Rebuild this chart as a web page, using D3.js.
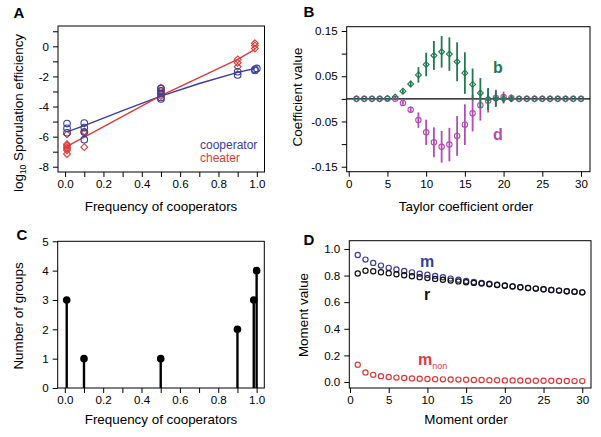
<!DOCTYPE html>
<html><head><meta charset="utf-8">
<script src="https://cdn.jsdelivr.net/npm/d3@7"></script>
<style>body{margin:0;background:#fff}svg{display:block}text{font-family:"Liberation Sans",Arial,sans-serif}</style>
</head><body><svg id="c" width="601" height="437"></svg>
<script>
// ---------- Panel A data ----------
const coopX = [0.01,0.01,0.01, 0.1,0.1,0.1,0.1, 0.5,0.5,0.5,0.5,0.5, 0.9,0.9, 0.99,0.99,1.0];
const coopY = [-5.13,-5.45,-5.75, -5.1,-5.4,-5.7,-6.2, -2.8,-2.96,-3.13,-3.4,-3.5, -1.69,-1.9, -1.53,-1.6,-1.47];
const cheatX = [0.01,0.01,0.01,0.01,0.01,0.01,0.01, 0.1,0.1,0.1, 0.5,0.5,0.5,0.5, 0.9,0.9,0.9, 0.99,0.99,0.99];
const cheatY = [-5.85,-6.5,-6.6,-6.7,-6.8,-6.9,-7.15, -5.65,-5.75,-6.7, -2.75,-2.95,-3.15,-3.3, -0.87,-1.09,-1.36, 0.2,0.05,-0.15];
const coopFitX = [0.01,0.1,0.3,0.5,0.7,0.9,0.99];
const coopFitY = [-5.69,-5.27,-4.27,-3.31,-2.47,-1.73,-1.47];
const cheatFitX = [0.01,0.1,0.5,0.9,0.99];
const cheatFitY = [-6.65,-6.04,-3.28,-0.87,-0.2];
const freqTicks = [0,0.1,0.2,0.3,0.4,0.5,0.6,0.7,0.8,0.9,1.0];
const aYTicks = [1,0,-1,-2,-3,-4,-5,-6,-7,-8];

// ---------- Panel B data ----------
const taylorOrder = d3.range(1,31);
const bVal = [0,0,0,0,0.001,0.004,0.017,0.033,0.053,0.076,0.096,0.104,0.099,0.082,0.057,0.032,0.013,0,0,0,0,0,0,0,0,0,0,0,0,0];
const bErr = [0,0,0,0,0,0.002,0.004,0.007,0.017,0.026,0.032,0.035,0.037,0.043,0.046,0.035,0.033,0.024,0.018,0.01,0.007,0,0,0,0,0,0,0,0,0];
const dVal = [0,0,0,0,0,0,-0.009,-0.024,-0.047,-0.074,-0.096,-0.106,-0.101,-0.082,-0.057,-0.032,-0.014,-0.004,0.002,0.004,0.002,0,0,0,0,0,0,0,0,0];
const dErr = [0,0,0,0,0,0.002,0.004,0.007,0.017,0.028,0.033,0.035,0.037,0.044,0.045,0.04,0.034,0.026,0.018,0.012,0.008,0,0,0,0,0,0,0,0,0];
const bYTicks = [0.15,0.1,0.05,0,-0.05,-0.1,-0.15];
const orderTicks = [0,5,10,15,20,25,30];

// ---------- Panel C data ----------
const groupFreq = [0.01,0.1,0.5,0.9,0.985,1.0];
const groupCount = [3,1,1,2,3,4];
const cYTicks = [0,1,2,3,4,5];

// ---------- Panel D data ----------
const momentOrder = d3.range(1,31);
const mVal = [0.955,0.92,0.895,0.875,0.858,0.845,0.834,0.824,0.814,0.806,0.797,0.787,0.777,0.768,0.760,0.752,0.745,0.738,0.731,0.725,0.719,0.713,0.707,0.702,0.697,0.692,0.687,0.682,0.678,0.674];
const rVal = [0.815,0.836,0.832,0.825,0.818,0.81,0.802,0.795,0.788,0.781,0.775,0.768,0.762,0.756,0.750,0.745,0.740,0.735,0.729,0.724,0.718,0.712,0.707,0.702,0.697,0.692,0.687,0.682,0.678,0.674];
const mnonVal = [0.13,0.072,0.054,0.044,0.038,0.033,0.03,0.027,0.025,0.023,0.021,0.02,0.019,0.018,0.017,0.016,0.015,0.014,0.013,0.012,0.012,0.011,0.01,0.01,0.009,0.009,0.008,0.008,0.007,0.007];
const dYTicks = [0,0.2,0.4,0.6,0.8,1.0];

const BLUE="#3a3d9c", RED="#dd3b3b", GREEN="#1f7a4e", PURPLE="#b44ab4";
const svg = d3.select("#c");
svg.append("rect").attr("width",601).attr("height",437).attr("fill","#fff");

function frame(x,y){
  svg.append("rect").attr("x",x.range()[0]).attr("y",y.range()[1])
    .attr("width",x.range()[1]-x.range()[0]).attr("height",y.range()[0]-y.range()[1])
    .attr("fill","none").attr("stroke","#000").attr("stroke-width",1);
}
function axes(x,y,xt,xf,yt,yf){
  const gx = svg.append("g").attr("transform",`translate(0,${y.range()[0]})`)
    .call(d3.axisBottom(x).tickValues(xt).tickFormat(xf).tickSize(5).tickPadding(3));
  const gy = svg.append("g").attr("transform",`translate(${x.range()[0]},0)`)
    .call(d3.axisLeft(y).tickValues(yt).tickFormat(yf).tickSize(5).tickPadding(4));
  [gx,gy].forEach(g=>{g.select(".domain").remove();
    g.selectAll("text").attr("font-size",11.6).attr("fill","#000").style("font-family",'"Liberation Sans",Arial,sans-serif');
    g.selectAll("line").attr("stroke","#000");});
}
function label(t,x,y,opt={}){
  const e=svg.append("text").attr("x",x).attr("y",y).text(t)
    .attr("font-size",opt.size||13.4).attr("fill",opt.color||"#000")
    .attr("text-anchor",opt.anchor||"middle").attr("font-weight",opt.bold?"bold":"normal");
  if(opt.rot) e.attr("transform",`rotate(-90,${x},${y})`);
  return e;
}
const diamond = d3.symbol().type(d3.symbolDiamond2);

// ===== Panel A =====
{
  const x=d3.scaleLinear().domain([-0.037,1.04]).range([58,264.5]);
  const y=d3.scaleLinear().domain([-8.35,1.35]).range([172,26]);
  axes(x,y,freqTicks,(d,i)=>i%2?"":d3.format(".1f")(d),aYTicks,d=>d%2?"":d3.format("d")(d).replace("−","-"));
  const ln=d3.line().x(d=>x(d[0])).y(d=>y(d[1]));
  svg.append("path").attr("d",ln(d3.zip(coopFitX,coopFitY))).attr("fill","none").attr("stroke",BLUE).attr("stroke-width",1.4);
  svg.append("path").attr("d",ln(d3.zip(cheatFitX,cheatFitY))).attr("fill","none").attr("stroke",RED).attr("stroke-width",1.4);
  svg.append("g").selectAll("path").data(d3.zip(cheatX,cheatY)).join("path")
    .attr("d",diamond.size(30)).attr("transform",d=>`translate(${x(d[0])},${y(d[1])})`)
    .attr("fill","none").attr("stroke",RED).attr("stroke-width",1.1);
  svg.append("g").selectAll("circle").data(d3.zip(coopX,coopY)).join("circle")
    .attr("cx",d=>x(d[0])).attr("cy",d=>y(d[1])).attr("r",3.3)
    .attr("fill","none").attr("stroke",BLUE).attr("stroke-width",1.1);
  frame(x,y);
  label("cooperator",200,149,{size:12,color:BLUE,anchor:"start"});
  label("cheater",200,162,{size:12,color:RED,anchor:"start"});
  label("Frequency of cooperators",161,211);
  const t=svg.append("text").attr("transform","translate(23,113) rotate(-90)").attr("text-anchor","middle").attr("font-size",13.4);
  t.append("tspan").text("log");
  t.append("tspan").text("10").attr("font-size",8.5).attr("dy",3);
  t.append("tspan").text(" Sporulation efficiency").attr("dy",-3);
  label("A",19,18,{size:15,bold:true});
}
// ===== Panel B =====
{
  const x=d3.scaleLinear().domain([-0.26,31.16]).range([346.7,590]);
  const y=d3.scaleLinear().domain([-0.161,0.1595]).range([171.7,26.7]);
  axes(x,y,orderTicks,d3.format("d"),bYTicks,d=>[0.15,0.05,-0.05,-0.15].includes(d)?d3.format(".2f")(d).replace("−","-"):"");
  svg.append("line").attr("x1",x.range()[0]).attr("x2",x.range()[1]).attr("y1",y(0)).attr("y2",y(0)).attr("stroke","#000").attr("stroke-width",1.2);
  const D=d3.zip(taylorOrder,dVal,dErr), B=d3.zip(taylorOrder,bVal,bErr);
  svg.append("g").selectAll("line").data(D.filter(d=>d[2]>0)).join("line")
    .attr("x1",d=>x(d[0])).attr("x2",d=>x(d[0])).attr("y1",d=>y(d[1]-d[2])).attr("y2",d=>y(d[1]+d[2]))
    .attr("stroke",PURPLE).attr("stroke-width",1.8);
  svg.append("g").selectAll("circle").data(D).join("circle")
    .attr("cx",d=>x(d[0])).attr("cy",d=>y(d[1])).attr("r",2.7)
    .attr("fill","none").attr("stroke",PURPLE).attr("stroke-width",1.1);
  svg.append("g").selectAll("line").data(B.filter(d=>d[2]>0)).join("line")
    .attr("x1",d=>x(d[0])).attr("x2",d=>x(d[0])).attr("y1",d=>y(d[1]-d[2])).attr("y2",d=>y(d[1]+d[2]))
    .attr("stroke",GREEN).attr("stroke-width",1.8);
  svg.append("g").selectAll("path").data(B).join("path")
    .attr("d",diamond.size(22)).attr("transform",d=>`translate(${x(d[0])},${y(d[1])})`)
    .attr("fill","none").attr("stroke",GREEN).attr("stroke-width",1.1);
  frame(x,y);
  label("b",498,73,{size:16,bold:true,color:GREEN});
  label("d",498,140,{size:16,bold:true,color:PURPLE});
  label("Taylor coefficient order",466,211);
  label("Coefficient value",302,97,{rot:true});
  label("B",309,17,{size:15,bold:true});
}
// ===== Panel C =====
{
  const x=d3.scaleLinear().domain([-0.037,1.04]).range([57.7,264.3]);
  const y=d3.scaleLinear().domain([0,5]).range([388,241.3]);
  axes(x,y,freqTicks,(d,i)=>i%2?"":d3.format(".1f")(d),cYTicks,d3.format("d"));
  const G=d3.zip(groupFreq,groupCount);
  svg.append("g").selectAll("line").data(G).join("line")
    .attr("x1",d=>x(d[0])).attr("x2",d=>x(d[0])).attr("y1",y(0)).attr("y2",d=>y(d[1]))
    .attr("stroke","#000").attr("stroke-width",2.4);
  svg.append("g").selectAll("circle").data(G).join("circle")
    .attr("cx",d=>x(d[0])).attr("cy",d=>y(d[1])).attr("r",3.8).attr("fill","#000");
  frame(x,y);
  label("Frequency of cooperators",161,424);
  label("Number of groups",23,316,{rot:true});
  label("C",22,240,{size:15,bold:true});
}
// ===== Panel D =====
{
  const x=d3.scaleLinear().domain([-0.09,31.13]).range([349.3,591]);
  const y=d3.scaleLinear().domain([-0.045,1.062]).range([388,240.7]);
  axes(x,y,orderTicks,d3.format("d"),dYTicks,d3.format(".1f"));
  const draw=(vals,col)=>svg.append("g").selectAll("circle").data(d3.zip(momentOrder,vals)).join("circle")
    .attr("cx",d=>x(d[0])).attr("cy",d=>y(d[1])).attr("r",2.6)
    .attr("fill","none").attr("stroke",col).attr("stroke-width",1.2);
  draw(mVal,BLUE); draw(rVal,"#111"); draw(mnonVal,RED);
  frame(x,y);
  label("m",427,267,{size:16,bold:true,color:BLUE});
  label("r",427,300,{size:16,bold:true,color:"#111"});
  const t=svg.append("text").attr("x",418).attr("y",365).attr("fill",RED).attr("font-size",16).attr("font-weight","bold").attr("text-anchor","start");
  t.append("tspan").text("m");
  t.append("tspan").text("non").attr("font-size",9).attr("font-weight","normal").attr("dy",4);
  label("Moment order",466,424);
  label("Moment value",308,315,{rot:true});
  label("D",309,245,{size:15,bold:true});
}
</script></body></html>
